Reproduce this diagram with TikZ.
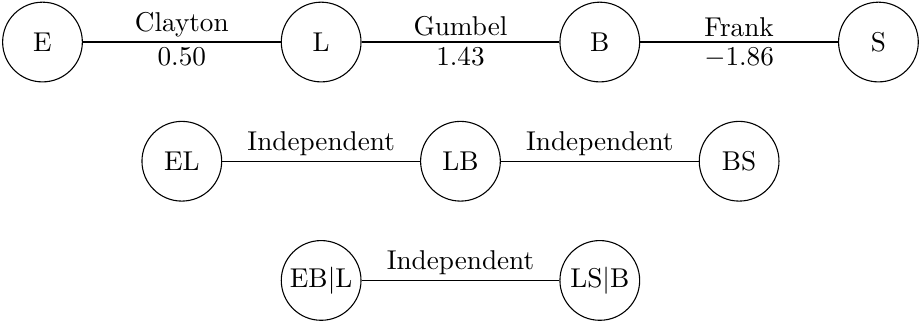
\documentclass[tikz,border=0pt]{standalone}
\usepackage{amsmath}
\usepackage{tikz}
\usetikzlibrary{arrows}

\begin{document}
\begin{tikzpicture}[-,auto,node distance=3.6cm,thin]
  \tikzstyle{var}=[circle,draw,minimum size=1.03cm,inner sep=1pt]
  \tikzstyle{lab}=[inner sep=1.8pt]
  \useasboundingbox (-0.549,0.543) rectangle (11.35,-3.643);

  % tree 1
  \node[var] (E)                {E};
  \node[var] (L) [right of=E]   {L};
  \node[var] (B) [right of=L]   {B};
  \node[var] (S) [right of=B]   {S};

  % tree 2
  \node[var] (EL) at (1.8,-1.54) {EL};
  \node[var] (LB) [right of=EL]  {LB};
  \node[var] (BS) [right of=LB]  {BS};

  % tree 3
  \node[var] (EBL) at (3.6,-3.08) {EB$|$L};
  \node[var] (LSB) [right of=EBL] {LS$|$B};

  \path (E) edge node[lab,above] {Clayton} node[lab,below] {0.50} (L)
        (L) edge node[lab,above] {Gumbel}  node[lab,below] {1.43} (B)
        (B) edge node[lab,above] {Frank}   node[lab,below] {$-1.86$} (S)

        (EL) edge node[lab,above] {Independent} (LB)
        (LB) edge node[lab,above] {Independent} (BS)

        (EBL) edge node[lab,above] {Independent} (LSB);
\end{tikzpicture}
\end{document}
